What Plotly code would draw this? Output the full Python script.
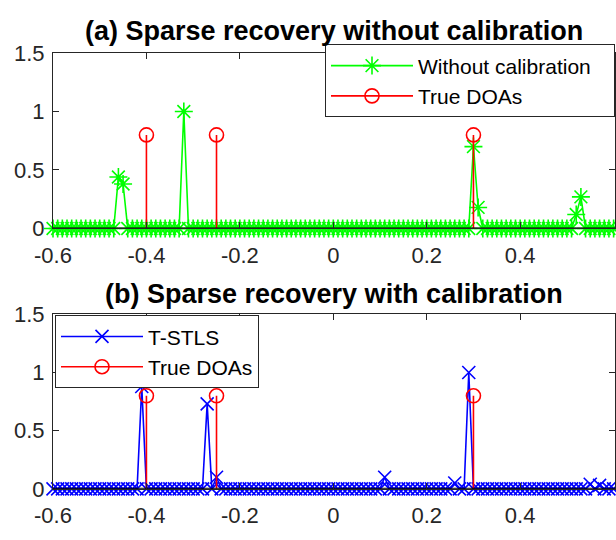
import numpy as np
import plotly.graph_objects as go

# Search grid (sine of DOA), step 0.01
grid = np.round(np.arange(-0.6, 0.6001, 0.01), 2)

# Recovered spectrum without calibration: nonzero grid points
uncal_x = [-0.46, -0.45, -0.32, 0.30, 0.31, 0.52, 0.53]
uncal_y = [0.44, 0.38, 1.00, 0.70, 0.18, 0.12, 0.27]

# Recovered spectrum with T-STLS calibration: nonzero grid points
tstls_x = [-0.41, -0.27, -0.25, 0.11, 0.26, 0.29, 0.55, 0.57]
tstls_y = [0.88, 0.73, 0.10, 0.10, 0.05, 1.00, 0.04, 0.03]

# True directions of arrival
doa_x = [-0.40, -0.25, 0.30]
doa_y = [0.8, 0.8, 0.8]

x_ticks = [-0.6, -0.4, -0.2, 0, 0.2, 0.4]
x_ticklabels = ["-0.6", "-0.4", "-0.2", "0", "0.2", "0.4"]
y_ticks = [0, 0.5, 1, 1.5]
y_ticklabels = ["0", "0.5", "1", "1.5"]


def spectrum(xs, ys):
    vals = np.zeros_like(grid)
    for x, y in zip(xs, ys):
        vals[np.argmin(np.abs(grid - x))] = y
    return vals


uncal = spectrum(uncal_x, uncal_y)
tstls = spectrum(tstls_x, tstls_y)

FONT = "Liberation Sans, Arial, Helvetica, sans-serif"
AX = "#262626"
GREEN = "#00ff00"
BLUE = "#0000ff"
RED = "#ff0000"

fig = go.Figure()


def stems(xref, yref, legend, name):
    sx, sy = [], []
    for x, y in zip(doa_x, doa_y):
        sx += [x, x, None]
        sy += [0, y, None]
    fig.add_trace(go.Scatter(x=sx, y=sy, mode="lines", line=dict(color=RED, width=1.6),
                             xaxis=xref, yaxis=yref, showlegend=False, hoverinfo="skip"))
    fig.add_trace(go.Scatter(x=doa_x, y=doa_y, mode="markers",
                             marker=dict(symbol="circle-open", size=14, color=RED,
                                         line=dict(width=1.6, color=RED)),
                             xaxis=xref, yaxis=yref, showlegend=False, cliponaxis=False))
    # legend entry (line with circle marker)
    fig.add_trace(go.Scatter(x=[None], y=[None], mode="lines+markers", name=name,
                             line=dict(color=RED, width=1.6),
                             marker=dict(symbol="circle-open", size=14, color=RED,
                                         line=dict(width=1.6, color=RED)),
                             xaxis=xref, yaxis=yref, legend=legend))


def baseline(xref, yref):
    fig.add_trace(go.Scatter(x=[-0.6, 0.61], y=[0, 0], mode="lines",
                             line=dict(color="#000000", width=2),
                             xaxis=xref, yaxis=yref, showlegend=False, hoverinfo="skip"))


# (a) without calibration
fig.add_trace(go.Scatter(x=grid, y=uncal, mode="lines+markers", name="Without calibration",
                         line=dict(color=GREEN, width=1.6),
                         marker=dict(symbol="asterisk-open", size=15, color=GREEN,
                                     line=dict(width=1.6, color=GREEN)),
                         xaxis="x", yaxis="y", legend="legend", cliponaxis=False))
stems("x", "y", "legend", "True DOAs")
baseline("x", "y")

# (b) with calibration
fig.add_trace(go.Scatter(x=grid, y=tstls, mode="lines+markers", name="T-STLS",
                         line=dict(color=BLUE, width=1.6),
                         marker=dict(symbol="x-thin-open", size=13, color=BLUE,
                                     line=dict(width=1.6, color=BLUE)),
                         xaxis="x2", yaxis="y2", legend="legend2", cliponaxis=False))
stems("x2", "y2", "legend2", "True DOAs")
baseline("x2", "y2")

W, H = 616, 540
L, R = 53, 1
top_a, bot_a = 43, 227
top_b, bot_b = 317, 500

axis_common = dict(showline=True, linecolor=AX, linewidth=1, mirror="ticks",
                   ticks="inside", ticklen=6, tickwidth=1, tickcolor=AX,
                   showgrid=False, zeroline=False,
                   tickfont=dict(family=FONT, size=22, color=AX))

xa = dict(axis_common, range=[-0.6, 0.603], tickvals=x_ticks, ticktext=x_ticklabels,
          ticklabelstandoff=7)
ya = dict(axis_common, range=[0, 1.5], tickvals=y_ticks, ticktext=y_ticklabels,
          ticklabelstandoff=3)

legend_common = dict(bgcolor="white", bordercolor=AX, borderwidth=1,
                     font=dict(family=FONT, size=21, color="#000000"),
                     itemwidth=82, tracegroupgap=0)

fig.update_layout(
    width=W, height=H,
    margin=dict(l=L, r=R, t=0, b=0),
    paper_bgcolor="white", plot_bgcolor="white",
    xaxis=dict(xa, anchor="y", domain=[0, 1]),
    yaxis=dict(ya, anchor="x", domain=[1 - bot_a / H, 1 - top_a / H]),
    xaxis2=dict(xa, anchor="y2", domain=[0, 1]),
    yaxis2=dict(ya, anchor="x2", domain=[1 - bot_b / H, 1 - top_b / H]),
    # one entry per row: entry width forces the second item onto a new line
    legend=dict(legend_common, orientation="h", entrywidth=191,
                x=1.0, xanchor="right", y=1 - 34 / H, yanchor="top"),
    legend2=dict(legend_common, x=(55 - L) / (W - L - R), xanchor="left",
                 y=1 - 318 / H, yanchor="top"),
    annotations=[
        dict(text="<b>(a) Sparse recovery without calibration</b>", xref="paper", yref="paper",
             x=0.5, y=1 - 20 / H, xanchor="center", yanchor="middle", showarrow=False,
             font=dict(family=FONT, size=27, color="#000000")),
        dict(text="<b>(b) Sparse recovery with calibration</b>", xref="paper", yref="paper",
             x=0.5, y=1 - 296 / H, xanchor="center", yanchor="middle", showarrow=False,
             font=dict(family=FONT, size=27, color="#000000")),
    ],
)

fig.write_html("out.html")
